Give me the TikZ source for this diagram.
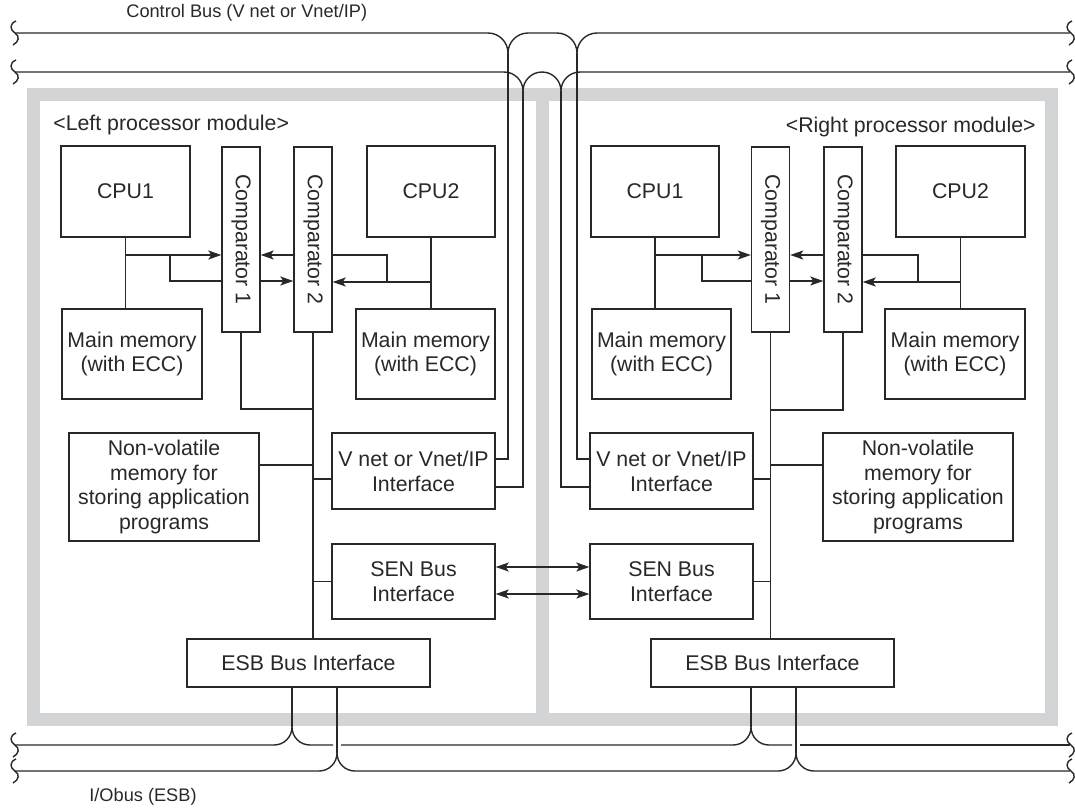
\documentclass[tikz,border=0pt]{standalone}
\usepackage{fontspec}
\setmainfont{Liberation Sans}
\usetikzlibrary{arrows.meta}
\definecolor{framegray}{RGB}{211,212,214}
\definecolor{linegray}{RGB}{40,40,40}
\tikzset{
  blk/.style={draw, rectangle, inner sep=0pt, align=center},
  buslabel/.style={anchor=west, font=\fontsize{9.1}{11}\selectfont},
}
\begin{document}
\begin{tikzpicture}[x=0.5pt, y=-0.5pt, line width=0.7pt, color=linegray,
  >={Stealth[length=6.5pt,width=4.5pt,inset=1.5pt]},
  every node/.style={font=\fontsize{10.65}{12.4}\selectfont}]
\useasboundingbox (0,0) rectangle (1075,809);

% module frames
\fill[framegray] (27,88) rectangle (1058,726);
\fill[white] (40,101) rectangle (536,713);
\fill[white] (549,101) rectangle (1045,713);

% titles
\node[buslabel] (busTop) at (119,13) {Control Bus (V net or Vnet/IP)};
\node[buslabel] (busBot) at (82,797) {I/Obus (ESB)};
\node[anchor=west] (modL) at (46,125) {<Left processor module>};
\node[anchor=east] (modR) at (1043,127) {<Right processor module>};

% left processor module
\node[blk, minimum width=64.5pt, minimum height=45.5pt] (cpuL1) at (125.5,191.5) {CPU1};
\node[blk, minimum width=19pt, minimum height=92.5pt] (cmpL1) at (241,239.5) {};
\node[blk, minimum width=19pt, minimum height=92.5pt] (cmpL2) at (313,239.5) {};
\node[rotate=-90] (cmpL1t) at (cmpL1) {Comparator 1};
\node[rotate=-90] (cmpL2t) at (cmpL2) {Comparator 2};
\node[blk, minimum width=64pt, minimum height=45.5pt] (cpuL2) at (431,191.5) {CPU2};
\node[blk, minimum width=70pt, minimum height=45pt] (memL1) at (132,354) {Main memory\\(with ECC)};
\node[blk, minimum width=69.5pt, minimum height=45pt] (memL2) at (425.5,354) {Main memory\\(with ECC)};
\node[blk, minimum width=95pt, minimum height=54pt] (nvL) at (164,487) {Non-volatile\\memory for\\storing application\\programs};
\node[blk, minimum width=81.5pt, minimum height=38pt] (vnL) at (413.5,471) {V net or Vnet/IP\\Interface};
\node[blk, minimum width=81.5pt, minimum height=37.5pt] (senL) at (413.5,581.5) {SEN Bus\\Interface};
\node[blk, minimum width=121.5pt, minimum height=24pt] (esbL) at (308.5,663) {ESB Bus Interface};

\draw (cpuL1.south) -- (cpuL1.south |- memL1.north);
\draw[->] (cpuL1.south |- 0,255) -- (cmpL1.west |- 0,255);
\draw (170,255) -- (170,281) -- (cmpL1.west |- 0,281);
\draw[->] (cmpL1.east |- 0,281) -- (cmpL2.west |- 0,281);
\draw (cpuL2.south) -- (cpuL2.south |- memL2.north);
\draw[->] (cpuL2.south |- 0,282) -- (cmpL2.east |- 0,282);
\draw (387,282) -- (387,255) -- (cmpL2.east |- 0,255);
\draw[->] (cmpL2.west |- 0,255) -- (cmpL1.east |- 0,255);
\draw (cmpL1.south) |- (cmpL2.south |- 0,409);
\draw (cmpL2.south) -- (cmpL2.south |- esbL.north);
\draw (nvL.east |- 0,465) -- (cmpL2.south |- 0,465);
\draw (vnL.west |- 0,479) -- (cmpL2.south |- 0,479);
\draw (senL.west) -- (cmpL2.south |- senL.west);
\draw (vnL.east |- 0,459) -| (508,53);
\draw (vnL.east |- 0,487) -| (523,91);
\draw (esbL.south -| 292,0) -- (292,727);
\draw (esbL.south -| 337,0) -- (337,753);

% right processor module
\node[blk, minimum width=64pt, minimum height=45.5pt] (cpuR1) at (655,191.5) {CPU1};
\node[blk, minimum width=19pt, minimum height=92.5pt] (cmpR1) at (770.5,239.5) {};
\node[blk, minimum width=19pt, minimum height=92.5pt] (cmpR2) at (843,239.5) {};
\node[rotate=-90] (cmpR1t) at (cmpR1) {Comparator 1};
\node[rotate=-90] (cmpR2t) at (cmpR2) {Comparator 2};
\node[blk, minimum width=64.5pt, minimum height=45.5pt] (cpuR2) at (960.5,191.5) {CPU2};
\node[blk, minimum width=69.5pt, minimum height=45pt] (memR1) at (661.5,354) {Main memory\\(with ECC)};
\node[blk, minimum width=70pt, minimum height=45pt] (memR2) at (955,354) {Main memory\\(with ECC)};
\node[blk, minimum width=95pt, minimum height=54pt] (nvR) at (918,487) {Non-volatile\\memory for\\storing application\\programs};
\node[blk, minimum width=81.5pt, minimum height=38pt] (vnR) at (671.5,471) {V net or Vnet/IP\\Interface};
\node[blk, minimum width=81.5pt, minimum height=37.5pt] (senR) at (671.5,581.5) {SEN Bus\\Interface};
\node[blk, minimum width=121.5pt, minimum height=24pt] (esbR) at (772.5,663) {ESB Bus Interface};

\draw (cpuR1.south) -- (cpuR1.south |- memR1.north);
\draw[->] (cpuR1.south |- 0,255) -- (cmpR1.west |- 0,255);
\draw (702,255) -- (702,281) -- (cmpR1.west |- 0,281);
\draw[->] (cmpR1.east |- 0,281) -- (cmpR2.west |- 0,281);
\draw (cpuR2.south) -- (cpuR2.south |- memR2.north);
\draw[->] (cpuR2.south |- 0,282) -- (cmpR2.east |- 0,282);
\draw (918,282) -- (918,255) -- (cmpR2.east |- 0,255);
\draw[->] (cmpR2.west |- 0,255) -- (cmpR1.east |- 0,255);
\draw (cmpR2.south) |- (cmpR1.south |- 0,410);
\draw (cmpR1.south) -- (cmpR1.south |- esbR.north);
\draw (nvR.west |- 0,465) -- (cmpR1.south |- 0,465);
\draw (vnR.east |- 0,479) -- (cmpR1.south |- 0,479);
\draw (senR.east) -- (cmpR1.south |- senR.east);
\draw (vnR.west |- 0,459) -| (577,53);
\draw (vnR.west |- 0,487) -| (561,91);
\draw (esbR.south -| 751,0) -- (751,727);
\draw (esbR.south -| 796,0) -- (796,753);

% SEN bus link
\draw[<->] (senL.east |- 0,567) -- (senR.west |- 0,567);
\draw[<->] (senL.east |- 0,594) -- (senR.west |- 0,594);

% control bus
\draw (15,33) -- (488,33) .. controls (499,33) and (508,42) .. (508,53)
  .. controls (508,42) and (517,33) .. (528,33) -- (557,33)
  .. controls (568,33) and (577,42) .. (577,53)
  .. controls (577,42) and (586,33) .. (597,33) -- (1070,33);
\draw (15,72) -- (504,72) .. controls (514.5,72) and (523,80.5) .. (523,91)
  .. controls (523,80.5) and (531.5,72) .. (542,72)
  .. controls (552.5,72) and (561,80.5) .. (561,91)
  .. controls (561,80.5) and (569.5,72) .. (580,72) -- (1070,72);

% I/O bus
\draw (15,745) -- (274,745) .. controls (284,745) and (292,737) .. (292,727)
  .. controls (292,737) and (300,745) .. (310,745) -- (333,745);
\draw (341,745) -- (733,745) .. controls (743,745) and (751,737) .. (751,727)
  .. controls (751,737) and (759,745) .. (769,745) -- (792,745);
\draw (800,745) -- (1070,745);
\draw (15,771) -- (319,771) .. controls (329,771) and (337,763) .. (337,753)
  .. controls (337,763) and (345,771) .. (355,771) -- (778,771)
  .. controls (788,771) and (796,763) .. (796,753)
  .. controls (796,763) and (804,771) .. (814,771) -- (1070,771);

% bus ends
\foreach \y in {33,72,745,771} {
  \draw (16,\y-12) .. controls (9,\y-9) and (10,\y-3) .. (15,\y)
    .. controls (20,\y+3) and (19,\y+9) .. (13,\y+12);
  \draw (1072,\y-12) .. controls (1065,\y-9) and (1066,\y-3) .. (1071,\y)
    .. controls (1076,\y+3) and (1075,\y+9) .. (1069,\y+12);
}
\end{tikzpicture}
\end{document}
